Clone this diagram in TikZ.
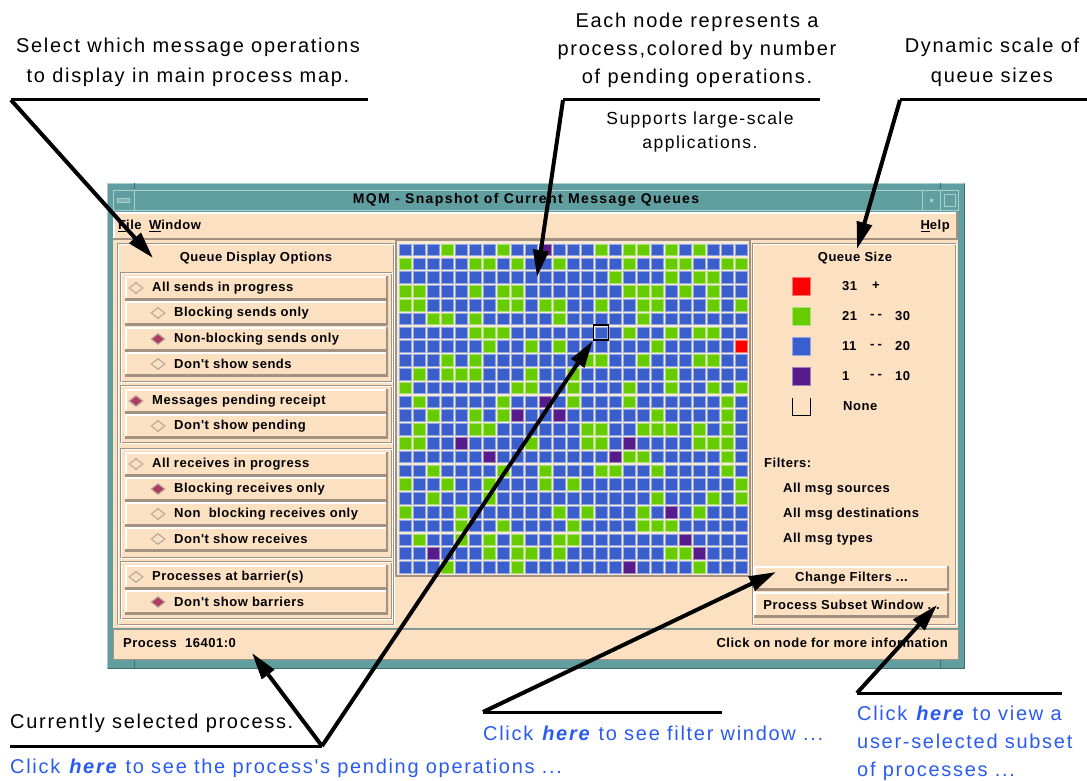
\documentclass[tikz,border=0pt]{standalone}
\usepackage{fontspec}
\setmainfont{Liberation Sans}
\newfontfamily\notefont[LetterSpace=8.5]{Liberation Sans}
\newfontfamily\uifont[LetterSpace=4]{Liberation Sans}
\newfontfamily\titlefont[LetterSpace=10]{Liberation Sans}
\usetikzlibrary{arrows.meta,positioning,shapes.geometric}
\definecolor{Peach}{HTML}{FCE0C2}
\definecolor{MapBg}{HTML}{F8E8D6}
\definecolor{Frame}{HTML}{619E9F}
\definecolor{FrameHi}{HTML}{A9D0D0}
\definecolor{FrameLo}{HTML}{3F6E70}
\definecolor{Shade}{HTML}{A39282}
\definecolor{CellB}{HTML}{3A5FCD}
\definecolor{CellG}{HTML}{66CC00}
\definecolor{CellP}{HTML}{561C8C}
\definecolor{CellR}{HTML}{FF0000}
\definecolor{Mark}{HTML}{B03A62}
\definecolor{Link}{HTML}{2A5BF0}
\tikzset{
  note/.style={font=\notefont\fontsize{20}{30}\selectfont, align=center, inner sep=0pt},
  link/.style={note, text=Link},
  ui/.style={font=\uifont\bfseries\fontsize{13}{15}\selectfont, inner sep=0pt},
  raised/.style={fill=Peach, inner sep=0pt, path picture={
    \draw[white, line width=3pt] (path picture bounding box.south west) -- (path picture bounding box.north west) -- (path picture bounding box.north east);
    \draw[Shade, line width=5pt] (path picture bounding box.south west) -- (path picture bounding box.south east) -- (path picture bounding box.north east);}},
  groove/.style={draw=Shade, line width=1pt, postaction={draw=white, line width=1pt, transform canvas={shift={(1pt,-1pt)}}}},
  btnbox/.style={minimum width=263pt, minimum height=24pt},
  radio/.style={diamond, inner sep=0pt, minimum width=14pt, minimum height=11pt, draw=Shade!80, line width=1.1pt, fill=#1},
  callout/.style={line width=4pt, -{Triangle[length=27pt,width=15pt]}},
  rule/.style={line width=3pt}
}
\begin{document}
\begin{tikzpicture}[x=1pt,y=-1pt]
  \useasboundingbox (0,0) rectangle (1087,781);

  % window frame
  \fill[Frame] (107,183) rectangle (965,669);
  \draw[FrameHi, line width=1.2pt] (107.6,668.4) -- (107.6,183.6) -- (964.4,183.6);
  \draw[FrameLo, line width=1.2pt] (964.4,183.6) -- (964.4,668.4) -- (107.6,668.4);
  \foreach \x in {134,940} {
    \draw[FrameLo] (\x,183) -- (\x,189);
    \draw[FrameLo] (\x,660) -- (\x,669);
  }
  \foreach \a/\b in {113/134,134/922,922/940,940/958}
    \draw[FrameHi, line width=0.8pt] (\a,190) rectangle (\b,210);
  \draw[FrameHi, fill=Frame!80!white] (117,198) rectangle (129,202);
  \fill[FrameHi] (930,199) rectangle (933,202);
  \draw[FrameHi] (944,194) rectangle (955,206);
  \node[font=\titlefont\bfseries\fontsize{14}{16}\selectfont, inner sep=0pt] (title) at (526,200) {MQM - Snapshot of Current Message Queues};

  % menu bar
  \node[raised, minimum width=845pt, minimum height=28pt] (menubar) at (535.5,226) {};
  \node[ui, anchor=west] (mfile) at (118,226) {\underline{F}ile};
  \node[ui, right=7pt of mfile] (mwin) {\underline{W}indow};
  \node[ui, anchor=east] (mhelp) at (950,226) {\underline{H}elp};
  \fill[Peach] (113,240) rectangle (958,628);

  % display options
  \draw[groove] (117,243) rectangle (393,624);
  \node[ui] (qdo) at (256,258) {Queue Display Options};
  \foreach \t/\b in {272/381,385/442,448/557,561/618}
    \draw[groove] (120,\t) rectangle (391,\b);
  \foreach \n/\y/\x/\fc/\lab in {
    sa/288/136/Peach/All sends in progress,
    sb/313/158/Peach/Blocking sends only,
    sc/339/158/Mark/Non-blocking sends only,
    sd/364/158/Peach/Don't show sends,
    pa/401/136/Mark/Messages pending receipt,
    pb/426/158/Peach/Don't show pending,
    ra/464/136/Peach/All receives in progress,
    rb/489/158/Mark/Blocking receives only,
    rc/514/158/Peach/Non\ \ blocking receives only,
    rd/539/158/Peach/Don't show receives,
    ba/577/136/Peach/Processes at barrier(s),
    bb/602/158/Mark/Don't show barriers} {
    \node[raised, btnbox] (\n) at (256.5,\y) {};
    \node[radio=\fc] (\n-dot) at (\x,\y) {};
    \node[ui, anchor=west] (\n-txt) at ({\x+16},\y) {\lab};
  }

  % process map
  \fill[MapBg] (396,240) rectangle (750,576);
  \draw[Shade, line width=1.5pt] (396,240) rectangle (750,576);
  \foreach \row [count=\j from 0] in {
    {B,B,B,G,B,B,B,G,B,B,P,B,B,B,G,B,G,G,B,G,B,G,B,B,B},
    {G,B,B,B,B,G,G,B,G,B,B,G,B,B,B,B,G,B,B,G,G,B,B,G,G},
    {B,B,B,B,B,B,B,B,B,B,B,B,B,B,B,G,B,B,B,G,B,G,G,B,B},
    {G,G,B,B,B,G,B,G,G,B,B,B,B,B,B,B,G,G,G,B,G,B,G,B,B},
    {G,G,B,B,B,B,B,G,G,B,G,G,B,B,G,B,B,G,G,B,B,B,G,B,G},
    {B,B,G,G,B,G,B,B,B,B,B,G,B,B,B,B,B,G,B,B,B,B,B,B,B},
    {B,B,B,B,B,G,G,G,B,B,B,B,B,B,B,B,G,B,B,G,B,G,G,B,B},
    {B,B,B,B,B,B,G,B,B,G,B,G,B,B,B,B,B,B,G,B,B,B,B,B,R},
    {B,B,B,G,B,G,B,B,B,B,B,B,B,G,G,B,B,G,B,B,B,G,G,B,B},
    {B,G,B,G,G,G,B,B,B,G,B,B,G,B,B,B,B,B,B,G,B,B,B,B,B},
    {G,B,B,B,B,B,B,B,G,G,B,B,G,B,B,B,G,B,B,G,B,B,G,B,G},
    {B,G,B,B,B,B,B,G,B,B,P,B,G,B,B,B,G,B,B,B,B,B,B,G,B},
    {B,B,G,B,B,G,B,G,P,B,B,P,B,B,B,B,B,B,G,B,B,B,B,G,B},
    {B,G,B,B,B,G,G,B,B,B,B,B,B,G,G,B,B,G,G,G,B,G,B,G,B},
    {G,G,B,B,P,B,B,B,B,G,B,B,B,G,G,B,P,B,B,B,B,G,G,G,B},
    {B,B,B,B,B,B,P,B,B,B,B,B,B,B,B,P,G,G,B,B,B,B,B,G,B},
    {B,B,G,B,B,B,B,G,B,B,G,B,B,B,G,G,B,B,G,B,B,B,B,G,B},
    {G,B,B,G,B,B,G,B,B,B,G,B,G,B,B,B,B,B,B,B,B,B,B,B,G},
    {B,B,G,B,B,B,G,B,B,B,B,B,B,B,B,B,B,B,G,B,B,B,G,B,G},
    {G,B,B,B,G,B,B,B,B,B,B,G,B,G,B,B,B,G,B,P,B,G,B,B,B},
    {B,B,B,B,G,B,B,G,B,B,B,B,G,B,B,B,B,G,G,G,B,B,B,B,B},
    {B,G,B,B,G,B,G,B,G,B,B,G,G,B,B,B,B,B,B,B,P,B,B,B,B},
    {B,B,P,B,B,B,G,B,G,G,B,G,B,B,B,B,B,B,B,G,G,P,B,B,B},
    {B,B,B,G,B,B,B,B,G,B,B,B,B,B,B,B,P,B,B,B,B,G,B,B,B}} {
    \foreach \c [count=\i from 0] in \row
      \filldraw[fill=Cell\c, draw=Cell\c!55!white, line width=0.6pt]
        ({399+14*\i},{244+13.8*\j}) rectangle ++(12,11.6);
  }
  \node[draw=black, line width=1.6pt, minimum size=15pt, inner sep=0pt] (selnode) at (601,332.6) {};

  % queue size legend
  \draw[groove] (752,243) rectangle (955,624);
  \node[ui] (qsize) at (855,258) {Queue Size};
  \foreach \n/\y/\c/\lo/\mid/\hi in {
    big/286/R/31/+/{},
    mid/316/G/21/-\hspace{3pt}-/30,
    low/346/B/11/-\hspace{3pt}-/20,
    few/376/P/1/-\hspace{3pt}-/10} {
    \node[fill=Cell\c, draw=Cell\c!55!white, minimum size=18pt, inner sep=0pt] (\n-key) at (801,\y) {};
    \node[ui, anchor=west] (\n-lo) at (842,\y) {\lo};
    \node[ui] (\n-mid) at (876,\y) {\mid};
    \node[ui, anchor=west] (\n-hi) at (895,\y) {\hi};
  }
  \draw[black, line width=0.9pt] (792,398) -- (792,415) -- (810,415) -- (810,398);
  \node[ui, anchor=west] (none) at (843,406) {None};
  \node[ui, anchor=west] (flt) at (764,463) {Filters:};
  \node[ui, anchor=west] (fsrc) at (783,489) {All msg sources};
  \node[ui, anchor=west] (fdst) at (783,514) {All msg destinations};
  \node[ui, anchor=west] (ftyp) at (783,539) {All msg types};
  \node[raised, ui, minimum width=195pt, minimum height=24pt] (chg) at (851.5,578) {Change Filters ...};
  \node[raised, ui, minimum width=195pt, minimum height=25pt] (sub) at (851.5,605) {Process Subset Window ...};

  % status line
  \node[fill=Peach, draw=Shade, line width=1pt, minimum width=845pt, minimum height=30pt] (status) at (535.5,644) {};
  \node[ui, anchor=west] (proc) at (123,643) {Process\ \ 16401:0};
  \node[ui, anchor=east] (hint) at (948,643) {Click on node for more information};

  % callouts
  \node[note] (optnote) at (188,62) {Select which message operations\\to display in main process map.};
  \coordinate (optA) at (11,100);
  \coordinate (optB) at (368,100);
  \coordinate (optTip) at (153,258);
  \draw[rule] (optA) -- (optB);
  \draw[callout] (optA) -- (optTip);

  \node[note, font=\notefont\fontsize{20}{28}\selectfont] (mapnote) at (697,50) {Each node represents a\\process,colored by number\\of pending operations.};
  \node[note, font=\notefont\fontsize{17.5}{24}\selectfont] (scalenote) at (700,132) {Supports large-scale\\applications.};
  \coordinate (mapA) at (563,100);
  \coordinate (mapB) at (820,100);
  \coordinate (mapTip) at (537,277);
  \draw[rule] (mapA) -- (mapB);
  \draw[callout] (mapA) -- (mapTip);

  \node[note] (sizenote) at (992,62) {Dynamic scale of\\queue sizes};
  \coordinate (sizeA) at (900,100);
  \coordinate (sizeB) at (1087,100);
  \coordinate (sizeTip) at (857,249);
  \draw[rule] (sizeA) -- (sizeB);
  \draw[callout] (sizeA) -- (sizeTip);

  \node[note, anchor=west] (curnote) at (10,723) {Currently selected process.};
  \node[link, anchor=west] (pendlink) at (10,768) {Click \textbf{\textit{here}} to see the process's pending operations ...};
  \coordinate (curA) at (10,746);
  \coordinate (curB) at (322,746);
  \coordinate (procTip) at (252,653);
  \draw[rule] (curA) -- (curB);
  \draw[callout] (curB) -- (procTip);
  \draw[callout] (curB) -- (selnode.south west);

  \node[link, anchor=west] (fltlink) at (483,733) {Click \textbf{\textit{here}} to see filter window ...};
  \coordinate (fltA) at (483,712);
  \coordinate (fltB) at (722,712);
  \coordinate (fltTip) at (776,572);
  \draw[rule] (fltA) -- (fltB);
  \draw[callout] (fltA) -- (fltTip);

  \node[link, anchor=west, align=left, font=\notefont\fontsize{20}{28}\selectfont] (sublink) at (857,743) {Click \textbf{\textit{here}} to view a\\user-selected subset\\of processes ...};
  \coordinate (subA) at (857,693);
  \coordinate (subB) at (1062,693);
  \coordinate (subTip) at (937,605);
  \draw[rule] (subA) -- (subB);
  \draw[callout] (subA) -- (subTip);
\end{tikzpicture}
\end{document}
